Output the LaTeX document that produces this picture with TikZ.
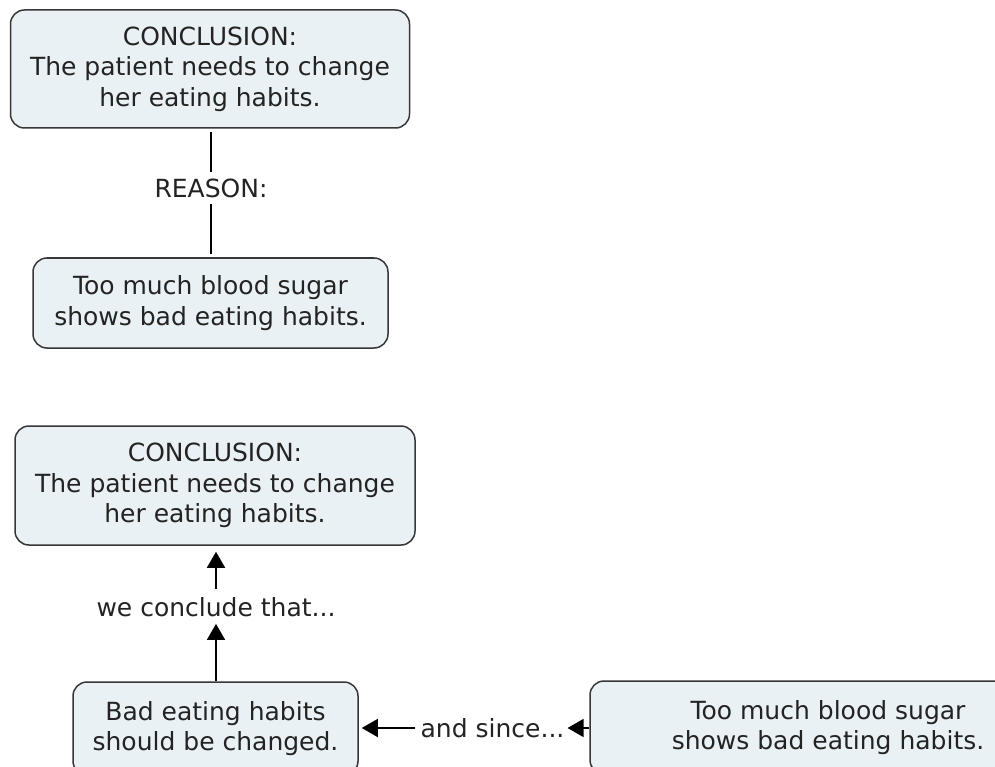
\documentclass[tikz,border=0pt]{standalone}
\usepackage{fontspec}
\setmainfont{DejaVu Sans}
\usetikzlibrary{arrows.meta}
\definecolor{boxfill}{RGB}{234,241,244}
\definecolor{boxdraw}{RGB}{55,55,55}
\definecolor{txt}{RGB}{35,35,35}
\tikzset{
  concept/.style={draw=boxdraw, fill=boxfill, line width=1.5pt, rounded corners=14pt,
    align=center, text=txt, font=\fontsize{25}{30.5}\selectfont, inner sep=0pt},
  linkword/.style={text=txt, font=\fontsize{25}{30.5}\selectfont, inner sep=0pt, fill=white},
  plain/.style={draw=black, line width=1.5pt},
  arr/.style={draw=black, line width=1.5pt, -{Triangle[length=16pt,width=18pt]}}
}
\begin{document}
\begin{tikzpicture}[x=1pt,y=-1pt]
\useasboundingbox[fill=white] (0,0) rectangle (995,767);
% top map
\node[concept, minimum width=399pt, minimum height=118pt] (c1) at (210,69)
  {CONCLUSION:\\The patient needs to change\\her eating habits.};
\node[concept, minimum width=355pt, minimum height=90pt] (r1) at (210.5,303)
  {Too much blood sugar\\shows bad eating habits.};
\node[linkword, minimum height=32pt] (l1) at (211,188) {REASON:};
\draw[plain, shorten >=3pt] (l1.north) -- (l1.north |- c1.south);
\draw[plain, shorten >=3pt] (l1.south) -- (l1.south |- r1.north);
% bottom map
\node[concept, minimum width=400pt, minimum height=119pt] (c2) at (215,485.5)
  {CONCLUSION:\\The patient needs to change\\her eating habits.};
\node[concept, minimum width=285pt, minimum height=93pt] (b2) at (215.5,728.5)
  {Bad eating habits\\should be changed.};
\node[concept, minimum width=476pt, minimum height=93pt] (t2) at (828,727.5)
  {Too much blood sugar\\shows bad eating habits.};
\node[linkword, minimum height=16pt] (l2) at (216,607) {we conclude that...};
\node[linkword, minimum height=16pt] (l3) at (492.5,728) {and since...};
\draw[arr, shorten >=6pt, shorten <=8pt] (l2.north) -- (l2.north |- c2.south);
\draw[arr, shorten >=7pt] (l2.south |- b2.north) -- (l2.south);
\draw[arr, shorten >=3pt, shorten <=5pt] (l3.west) -- (l3.west -| b2.east);
\draw[arr, shorten >=3pt] (t2.west |- l3.east) -- (l3.east);
\end{tikzpicture}
\end{document}
